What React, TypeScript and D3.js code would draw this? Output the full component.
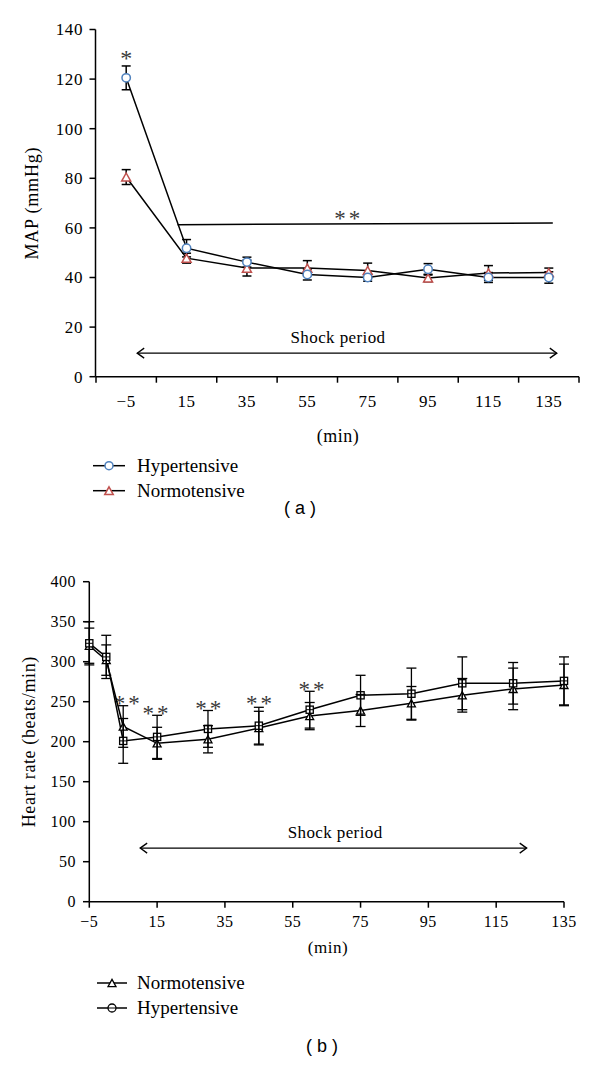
import React from "react";
import * as d3 from "d3";

// ---------- Panel (a): MAP ----------
const topCats = ["\u22125", "15", "35", "55", "75", "95", "115", "135"];
const topHyper = [120.5, 51.8, 46.2, 41.2, 40, 43.3, 40, 40];
const topHyperErr = [4.8, 3.5, 2, 2.2, 1.5, 2.3, 2, 2.3];
const topNormo = [80.5, 47.8, 43.8, 43.8, 42.8, 39.8, 41.8, 42];
const topNormoErr = [3, 2, 3.2, 3, 3, 1.5, 3, 1.8];
const topYTicks = [0, 20, 40, 60, 80, 100, 120, 140];

// ---------- Panel (b): Heart rate ----------
const hrTimes = [-5, 0, 5, 15, 30, 45, 60, 75, 90, 105, 120, 135];
const hrHyper = [323, 306, 201, 206, 216, 220, 240, 258, 260, 273, 273, 276];
const hrHyperErr = [27, 27, 28, 27, 23, 23, 23, 25, 32, 33, 26, 30];
const hrNormo = [320, 302, 219, 198, 203, 217, 232, 239, 248, 258, 266, 271];
const hrNormoErr = [22, 19, 26, 20, 17, 21, 17, 20, 21, 21, 26, 26];
const hrXTicks = [-5, 15, 35, 55, 75, 95, 115, 135];
const hrYTicks = [0, 50, 100, 150, 200, 250, 300, 350, 400];
const hrStars = [
  { t: 6.5, v: 255 },
  { t: 15, v: 242 },
  { t: 30.5, v: 248 },
  { t: 45.5, v: 255 },
  { t: 61, v: 272 },
];

const SERIF = "'Liberation Serif', 'Times New Roman', serif";
const SANS = "'Liberation Sans', Arial, sans-serif";
const BLUE = "#4f81bd";
const RED = "#c0504d";
const STAR = "#3a3a3a";

const triPath = (cx: number, cy: number, w: number) => {
  const h = w * 0.9;
  return `M${cx},${cy - h / 2}L${cx + w / 2},${cy + h / 2}L${cx - w / 2},${cy + h / 2}Z`;
};

const fmt = (v: number) => (v < 0 ? "\u2212" + Math.abs(v) : String(v));

export default function App() {
  // ---- top scales
  const xTop = d3.scaleBand<string>().domain(topCats).range([96, 579]).padding(0);
  const bw = xTop.bandwidth();
  const cx = (c: string) => (xTop(c) as number) + bw / 2;
  const yTop = d3.scaleLinear().domain([0, 140]).range([376.7, 29.5]);

  const lineTop = d3
    .line<number>()
    .x((_, i) => cx(topCats[i]))
    .y((d) => yTop(d));

  // ---- bottom scales
  const xB = d3.scaleLinear().domain([-5, 135]).range([89.3, 564]);
  const yB = d3.scaleLinear().domain([0, 400]).range([901.7, 581.7]);
  const lineB = d3
    .line<number>()
    .x((_, i) => xB(hrTimes[i]))
    .y((d) => yB(d));

  const topTickEdges = [...topCats.map((c) => xTop(c) as number), 579];

  return (
    <svg
      width={600}
      height={1068}
      style={{ position: "absolute", left: 0, top: 0, background: "#fff" }}
      fontFamily={SERIF}
    >
      <rect x={0} y={0} width={600} height={1068} fill="#fff" />
      {/* ================= Panel (a) ================= */}
      <g>
        {/* axes */}
        <line x1={95.5} x2={95.5} y1={yTop(140)} y2={yTop(0)} stroke="#000" strokeWidth={1.5} />
        <line x1={95.5} x2={579} y1={yTop(0)} y2={yTop(0)} stroke="#000" strokeWidth={1.5} />
        {topYTicks.map((t) => (
          <g key={t}>
            <line x1={89.5} x2={95.5} y1={yTop(t)} y2={yTop(t)} stroke="#000" strokeWidth={1.5} />
            <text x={83} y={yTop(t)} dy="0.35em" textAnchor="end" fontSize={17} letterSpacing={0.6}>
              {t}
            </text>
          </g>
        ))}
        {topTickEdges.map((x, i) => (
          <line key={i} x1={x} x2={x} y1={yTop(0)} y2={yTop(0) + 6} stroke="#000" strokeWidth={1.5} />
        ))}
        {topCats.map((c) => (
          <text key={c} x={cx(c)} y={407} textAnchor="middle" fontSize={17} letterSpacing={0.6}>
            {c}
          </text>
        ))}
        <text x={338} y={442} textAnchor="middle" fontSize={18} letterSpacing={0.5}>
          (min)
        </text>
        <text
          transform={`translate(38,${yTop(70)}) rotate(-90)`}
          textAnchor="middle"
          fontSize={18}
          letterSpacing={0.8}
        >
          MAP (mmHg)
        </text>

        {/* significance bar */}
        <line
          x1={cx("15") - 9}
          x2={cx("135") + 4}
          y1={yTop(61.3)}
          y2={yTop(62)}
          stroke="#000"
          strokeWidth={1.5}
        />
        <text x={cx("75") - 19} y={yTop(62) + 3} textAnchor="middle" fontSize={23} fill={STAR} letterSpacing={3}>
          **
        </text>
        <text x={cx(topCats[0])} y={66} textAnchor="middle" fontSize={24} fill={STAR}>
          *
        </text>

        {/* shock period arrow */}
        <line x1={cx(topCats[0]) + 11} x2={cx("135") + 8} y1={yTop(9.5)} y2={yTop(9.5)} stroke="#000" strokeWidth={1.3} />
        <path
          d={`M${cx(topCats[0]) + 18},${yTop(9.5) - 5}L${cx(topCats[0]) + 11},${yTop(9.5)}L${cx(topCats[0]) + 18},${yTop(9.5) + 5}`}
          fill="none"
          stroke="#000"
          strokeWidth={1.3}
        />
        <path
          d={`M${cx("135") + 1},${yTop(9.5) - 5}L${cx("135") + 8},${yTop(9.5)}L${cx("135") + 1},${yTop(9.5) + 5}`}
          fill="none"
          stroke="#000"
          strokeWidth={1.3}
        />
        <text x={338} y={yTop(9.5) - 10} textAnchor="middle" fontSize={17} letterSpacing={0.4}>
          Shock period
        </text>

        {/* error bars */}
        {[
          { v: topHyper, e: topHyperErr },
          { v: topNormo, e: topNormoErr },
        ].map((s, si) =>
          s.v.map((v, i) => {
            const x = cx(topCats[i]);
            const y1 = yTop(v + s.e[i]);
            const y2 = yTop(v - s.e[i]);
            return (
              <g key={`${si}-${i}`} stroke="#000" strokeWidth={1.5}>
                <line x1={x} x2={x} y1={y1} y2={y2} />
                <line x1={x - 4.5} x2={x + 4.5} y1={y1} y2={y1} />
                <line x1={x - 4.5} x2={x + 4.5} y1={y2} y2={y2} />
              </g>
            );
          })
        )}
        {/* lines */}
        <path d={lineTop(topHyper) || ""} fill="none" stroke="#000" strokeWidth={1.5} />
        <path d={lineTop(topNormo) || ""} fill="none" stroke="#000" strokeWidth={1.5} />
        {/* markers */}
        {topNormo.map((v, i) => (
          <path key={`tn${i}`} d={triPath(cx(topCats[i]), yTop(v), 9)} fill="#fff" stroke={RED} strokeWidth={1.5} />
        ))}
        {topHyper.map((v, i) => (
          <circle key={`th${i}`} cx={cx(topCats[i])} cy={yTop(v)} r={4.2} fill="#fff" stroke={BLUE} strokeWidth={1.5} />
        ))}

        {/* legend */}
        <line x1={93} x2={125} y1={465.7} y2={465.7} stroke="#000" strokeWidth={1.5} />
        <circle cx={109} cy={465.7} r={4} fill="#fff" stroke={BLUE} strokeWidth={1.5} />
        <text x={137} y={465.7} dy="0.33em" fontSize={19}>
          Hypertensive
        </text>
        <line x1={93} x2={125} y1={490.7} y2={490.7} stroke="#000" strokeWidth={1.5} />
        <path d={triPath(109, 490.7, 8.5)} fill="#fff" stroke={RED} strokeWidth={1.5} />
        <text x={137} y={490.7} dy="0.33em" fontSize={19}>
          Normotensive
        </text>

        <text x={300} y={514} textAnchor="middle" fontSize={18} fontFamily={SANS}>
          ( a )
        </text>
      </g>

      {/* ================= Panel (b) ================= */}
      <g>
        <line x1={89.3} x2={89.3} y1={yB(400)} y2={yB(0)} stroke="#000" strokeWidth={1.5} />
        <line x1={89.3} x2={564} y1={yB(0)} y2={yB(0)} stroke="#000" strokeWidth={1.5} />
        {hrYTicks.map((t) => (
          <g key={t}>
            <line x1={83} x2={89.3} y1={yB(t)} y2={yB(t)} stroke="#000" strokeWidth={1.5} />
            <text x={76} y={yB(t)} dy="0.35em" textAnchor="end" fontSize={16} letterSpacing={0.5}>
              {t}
            </text>
          </g>
        ))}
        {hrXTicks.map((t) => (
          <g key={t}>
            <line x1={xB(t)} x2={xB(t)} y1={yB(0)} y2={yB(0) + 6} stroke="#000" strokeWidth={1.5} />
            <text x={xB(t)} y={927} textAnchor="middle" fontSize={16} letterSpacing={0.5}>
              {fmt(t)}
            </text>
          </g>
        ))}
        <text x={328} y={953} textAnchor="middle" fontSize={17} letterSpacing={0.5}>
          (min)
        </text>
        <text
          transform={`translate(35,${yB(200)}) rotate(-90)`}
          textAnchor="middle"
          fontSize={18}
          letterSpacing={0.6}
        >
          Heart rate (beats/min)
        </text>

        {/* shock period */}
        <line x1={xB(10)} x2={xB(124)} y1={yB(67)} y2={yB(67)} stroke="#000" strokeWidth={1.3} />
        <path
          d={`M${xB(10) + 7},${yB(67) - 5}L${xB(10)},${yB(67)}L${xB(10) + 7},${yB(67) + 5}`}
          fill="none"
          stroke="#000"
          strokeWidth={1.3}
        />
        <path
          d={`M${xB(124) - 7},${yB(67) - 5}L${xB(124)},${yB(67)}L${xB(124) - 7},${yB(67) + 5}`}
          fill="none"
          stroke="#000"
          strokeWidth={1.3}
        />
        <text x={xB(67.5)} y={yB(67) - 10} textAnchor="middle" fontSize={17} letterSpacing={0.4}>
          Shock period
        </text>

        {/* stars */}
        {hrStars.map((s, i) => (
          <text key={i} x={xB(s.t)} y={yB(s.v) + 13} textAnchor="middle" fontSize={23} fill={STAR} letterSpacing={3}>
            **
          </text>
        ))}

        {/* lines */}
        <path d={lineB(hrHyper) || ""} fill="none" stroke="#000" strokeWidth={1.5} />
        <path d={lineB(hrNormo) || ""} fill="none" stroke="#000" strokeWidth={1.5} />
        {/* markers */}
        {hrNormo.map((v, i) => (
          <path key={`bn${i}`} d={triPath(xB(hrTimes[i]), yB(v), 8)} fill="#fff" stroke="#000" strokeWidth={1.3} />
        ))}
        {hrHyper.map((v, i) => (
          <rect
            key={`bh${i}`}
            x={xB(hrTimes[i]) - 3.6}
            y={yB(v) - 3.6}
            width={7.2}
            height={7.2}
            fill="#fff"
            stroke="#000"
            strokeWidth={1.3}
          />
        ))}
        {/* error bars on top (visible through markers) */}
        {[
          { v: hrHyper, e: hrHyperErr },
          { v: hrNormo, e: hrNormoErr },
        ].map((s, si) =>
          s.v.map((v, i) => {
            const x = xB(hrTimes[i]);
            const y1 = yB(v + s.e[i]);
            const y2 = yB(v - s.e[i]);
            return (
              <g key={`be${si}-${i}`} stroke="#000" strokeWidth={1.3}>
                <line x1={x} x2={x} y1={y1} y2={y2} />
                <line x1={x - 5} x2={x + 5} y1={y1} y2={y1} />
                <line x1={x - 5} x2={x + 5} y1={y2} y2={y2} />
              </g>
            );
          })
        )}
        {/* horizontal line through markers */}
        {hrHyper.map((v, i) => (
          <line key={`bhl${i}`} x1={xB(hrTimes[i]) - 3.6} x2={xB(hrTimes[i]) + 3.6} y1={yB(v)} y2={yB(v)} stroke="#000" strokeWidth={1} />
        ))}

        {/* legend */}
        <line x1={97} x2={127} y1={983} y2={983} stroke="#000" strokeWidth={1.5} />
        <path d={triPath(112, 983, 8)} fill="#fff" stroke="#000" strokeWidth={1.3} />
        <text x={137} y={983} dy="0.33em" fontSize={19}>
          Normotensive
        </text>
        <line x1={97} x2={127} y1={1008} y2={1008} stroke="#000" strokeWidth={1.5} />
        <circle cx={112} cy={1008} r={4} fill="#fff" stroke="#000" strokeWidth={1.3} />
        <line x1={108} x2={116} y1={1008} y2={1008} stroke="#000" strokeWidth={1} />
        <text x={137} y={1008} dy="0.33em" fontSize={19}>
          Hypertensive
        </text>

        <text x={322} y={1052} textAnchor="middle" fontSize={18} fontFamily={SANS}>
          ( b )
        </text>
      </g>
    </svg>
  );
}
